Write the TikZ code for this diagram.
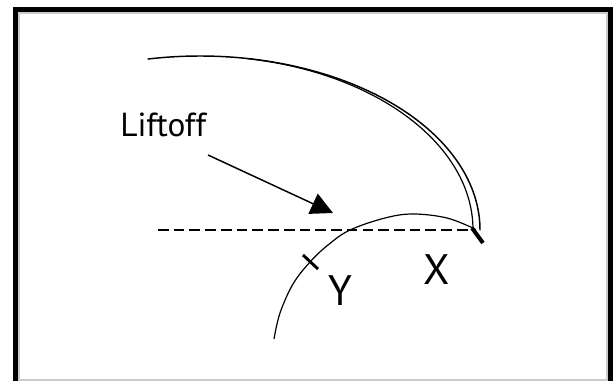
\documentclass[tikz,border=0pt]{standalone}
\usepackage{fontspec}
\setmainfont{PT Sans}
\usetikzlibrary{arrows.meta}
\begin{document}
\begin{tikzpicture}[x=0.75pt,y=-0.75pt,
  curve/.style={line width=1.1pt,line cap=round},
  thin curve/.style={line width=0.9pt},
  lbl/.style={inner sep=0pt,font=\fontsize{32pt}{36pt}\selectfont},
  small lbl/.style={inner sep=0pt,font=\fontsize{25pt}{28pt}\selectfont},
  tick mark/.style={line width=3pt},
  dashline/.style={line width=1.1pt,dash pattern=on 8pt off 3.8pt}]
\useasboundingbox (0,0) rectangle (613,381);
% frame
\fill[black!20] (13,7) rectangle (613,381);
\fill[white] (20,14) rectangle (606,378.5);
\fill[black] (13,7) rectangle (18,381);
\fill[black] (13,7) rectangle (613,12);
\fill[black] (608,7) rectangle (613,381);
% outer trajectory (double near the end)
\draw[curve] (200,230) ++(-100.7:280 and 174) arc[start angle=-100.7,end angle=0,x radius=280,y radius=174];
\draw[thin curve] (200,230) ++(-80:273 and 174) arc[start angle=-80,end angle=0,x radius=273,y radius=174];
% inner arc
\draw[thin curve] plot[smooth,tension=0.6] coordinates {(274,339) (280,313) (293,284) (310,262) (328,245) (350,230) (385,218) (413,214) (447,218) (475,229)};
% dashed horizontal
\coordinate (dl) at (158,230);
\coordinate (dr) at (476,230);
\draw[dashline] (dl) -- (dr);
% ticks
\coordinate (xt1) at (472,228);
\coordinate (xt2) at (483,243);
\draw[tick mark] (xt1) -- (xt2);
\coordinate (yt1) at (303,255);
\coordinate (yt2) at (318,269);
\draw[line width=2.2pt] (yt1) -- (yt2);
% labels
\node[small lbl,anchor=base west] (liftoff) at (120,137) {Liftoff};
\node[lbl,anchor=base] (X) at (437,284) {X};
\node[lbl,anchor=base] (Y) at (340,305) {Y};
% arrow
\coordinate (as) at (208,155);
\coordinate (at) at (333,213);
\draw[line width=1.1pt,-{Triangle[length=16.5pt,width=16.5pt]}] (as) -- (at);
\end{tikzpicture}
\end{document}
